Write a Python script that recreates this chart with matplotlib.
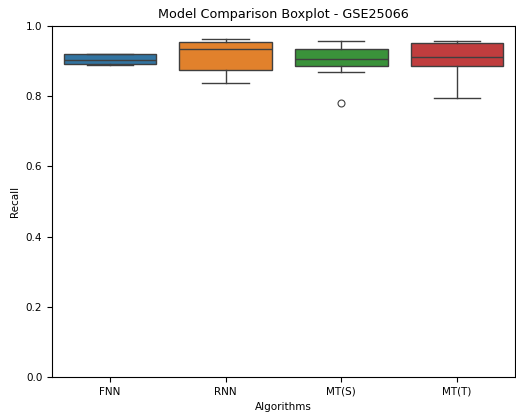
import matplotlib
matplotlib.use("Agg")
from matplotlib import pyplot as plt

# Recall por fold de cada algoritmo
algoritmos = ["FNN", "RNN", "MT(S)", "MT(T)"]
recall_fnn = [0.890, 0.891, 0.892, 0.892, 0.900, 0.906, 0.919, 0.919, 0.919, 0.919]
recall_rnn = [0.837, 0.860, 0.875, 0.875, 0.930, 0.940, 0.954, 0.954, 0.960, 0.964]
recall_mts = [0.780, 0.869, 0.884, 0.892, 0.902, 0.908, 0.930, 0.934, 0.945, 0.957]
recall_mtt = [0.795, 0.870, 0.886, 0.886, 0.905, 0.919, 0.952, 0.952, 0.955, 0.957]

cores = ["#3274a1", "#e1812c", "#3a923a", "#c03d3e"]
cinza = "#3f3f3f"

fig = plt.figure(figsize=(5.16, 4.12), dpi=100)
ax = fig.add_axes([0.1008, 0.085, 0.897, 0.852])

bp = ax.boxplot([recall_fnn, recall_rnn, recall_mts, recall_mtt],
                positions=range(len(algoritmos)), widths=0.8, patch_artist=True,
                medianprops=dict(color=cinza, linewidth=1),
                whiskerprops=dict(color=cinza, linewidth=1),
                capprops=dict(color=cinza, linewidth=1),
                boxprops=dict(edgecolor=cinza, linewidth=1),
                flierprops=dict(marker="o", markerfacecolor="none",
                                markeredgecolor=cinza, markersize=5, markeredgewidth=0.8))
for caixa, cor in zip(bp["boxes"], cores):
    caixa.set_facecolor(cor)

ax.set_xlim(-0.5, 3.5)
ax.set_ylim(0, 1.0)
ax.set_xticks(range(len(algoritmos)))
ax.set_xticklabels(algoritmos)
ax.tick_params(labelsize=7.5)
ax.set_xlabel("Algorithms", fontsize=7.5)
ax.set_ylabel("Recall", fontsize=7.5)
ax.set_title("Model Comparison Boxplot - GSE25066", fontsize=9.2)

fig.savefig("out.png", dpi=100)
